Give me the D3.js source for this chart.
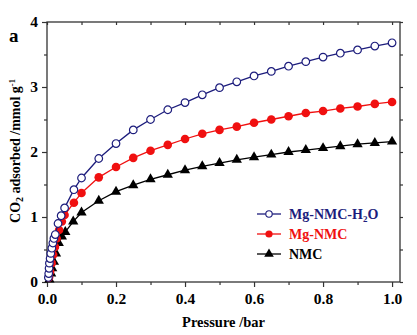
<!DOCTYPE html>
<html><head><meta charset="utf-8">
<script src="https://cdn.jsdelivr.net/npm/d3@7"></script>
<style>body{margin:0;background:#fff}svg{display:block}text{font-family:"Liberation Serif","Times New Roman",serif;font-weight:bold}</style>
</head><body><svg id="c" width="417" height="335"></svg>
<script>
const pressure = [0.004,0.005,0.006,0.007,0.009,0.011,0.014,0.017,0.020,0.024,0.032,0.041,0.051,0.078,0.10,0.15,0.20,0.25,0.30,0.35,0.40,0.45,0.50,0.55,0.60,0.65,0.70,0.75,0.80,0.85,0.90,0.95,1.00];
const mgNmcH2O = [0.07,0.13,0.21,0.29,0.36,0.44,0.52,0.60,0.67,0.73,0.90,1.02,1.14,1.42,1.60,1.90,2.13,2.34,2.50,2.65,2.76,2.88,2.99,3.08,3.17,3.24,3.32,3.39,3.46,3.52,3.57,3.63,3.68];
const pressureR = [0.006,0.009,0.0136,0.018,0.023,0.028,0.035,0.043,0.051,0.078,0.10,0.15,0.20,0.25,0.30,0.35,0.40,0.45,0.50,0.55,0.60,0.65,0.70,0.75,0.80,0.85,0.90,0.95,1.00];
const mgNmc = [0.07,0.16,0.29,0.42,0.54,0.67,0.80,0.93,1.03,1.22,1.37,1.61,1.77,1.91,2.02,2.11,2.20,2.28,2.34,2.39,2.45,2.50,2.55,2.60,2.63,2.67,2.70,2.74,2.77];
const pressureK = [0.007,0.012,0.015,0.020,0.026,0.034,0.043,0.053,0.076,0.10,0.15,0.20,0.25,0.30,0.35,0.40,0.45,0.50,0.55,0.60,0.65,0.70,0.75,0.80,0.85,0.90,0.95,1.00];
const nmc = [0.04,0.13,0.21,0.31,0.44,0.60,0.70,0.77,0.93,1.07,1.25,1.39,1.49,1.58,1.65,1.72,1.78,1.83,1.88,1.92,1.96,2.00,2.03,2.06,2.09,2.12,2.14,2.16];
const xTicks = [0.0,0.2,0.4,0.6,0.8,1.0];
const xMinor = [0.1,0.3,0.5,0.7,0.9];
const yTicks = [0,1,2,3,4];
const yMinor = [0.5,1.5,2.5,3.5];
const seriesNames = ["Mg-NMC-H2O","Mg-NMC","NMC"];
const colors = ["#1c1c7c","#f01010","#000000"];

const svg = d3.select("#c");
const L=47,R=400,T=22,B=282;
const x = d3.scaleLinear().domain([0,1.023]).range([L,R]);
const y = d3.scaleLinear().domain([0,4]).range([B,T]);

svg.append("rect").attr("x",L).attr("y",T).attr("width",R-L).attr("height",B-T).attr("fill","none").attr("stroke","#333").attr("stroke-width",1.3);

const fmt = d3.format(".1f");
const xAx = svg.append("g").attr("transform",`translate(0,${B})`)
  .call(d3.axisBottom(x).tickValues(xTicks).tickFormat(fmt).tickSize(5).tickPadding(6));
const xAxMinor = svg.append("g").attr("transform",`translate(0,${B})`)
  .call(d3.axisBottom(x).tickValues(xMinor).tickFormat("").tickSize(3));
const xTop = svg.append("g").attr("transform",`translate(0,${T})`)
  .call(d3.axisTop(x).tickValues(xTicks.concat(xMinor)).tickFormat("").tickSize(-3));
const yAx = svg.append("g").attr("transform",`translate(${L},0)`)
  .call(d3.axisLeft(y).tickValues(yTicks).tickFormat(d3.format("d")).tickSize(5).tickPadding(4));
const yAxMinor = svg.append("g").attr("transform",`translate(${L},0)`)
  .call(d3.axisLeft(y).tickValues(yMinor).tickFormat("").tickSize(3));
const yRight = svg.append("g").attr("transform",`translate(${R},0)`)
  .call(d3.axisRight(y).tickValues(yTicks.concat(yMinor)).tickFormat("").tickSize(3));
[xAx,xAxMinor,xTop,yAx,yAxMinor,yRight].forEach(g=>{
  g.select(".domain").remove();
  g.selectAll("line").attr("stroke","#333").attr("stroke-width",1.2);
  g.selectAll("text").attr("fill","#000").style("font-size","15.5px").style("font-family","'Liberation Serif',serif").style("font-weight","bold");
});

svg.append("text").attr("x",9).attr("y",42).style("font-size","19px").text("a");
svg.append("text").attr("x",(L+R)/2).attr("y",327).attr("text-anchor","middle").style("font-size","14.5px").text("Pressure /bar");
const yl = svg.append("text").attr("transform",`translate(20,151) rotate(-90)`).attr("text-anchor","middle").style("font-size","14px");
yl.append("tspan").text("CO");
yl.append("tspan").attr("dy",3).style("font-size","10px").text("2");
yl.append("tspan").attr("dy",-3).text(" adsorbed /mmol g");
yl.append("tspan").attr("dy",-5).style("font-size","8.5px").text("-1");

const data = [
  {name:seriesNames[0],xs:pressure,ys:mgNmcH2O,c:colors[0],m:"circleOpen"},
  {name:seriesNames[1],xs:pressureR,ys:mgNmc,c:colors[1],m:"circle"},
  {name:seriesNames[2],xs:pressureK,ys:nmc,c:colors[2],m:"tri"}
];
const line = d3.line().x(d=>x(d[0])).y(d=>y(d[1]));
function marker(g,type,c){
  if(type==="tri") g.append("path").attr("d",d3.symbol(d3.symbolTriangle,46)()).attr("fill",c);
  else if(type==="circle") g.append("circle").attr("r",4.3).attr("fill",c);
  else g.append("circle").attr("r",3.8).attr("fill","#fff").attr("stroke",c).attr("stroke-width",1.2);
}
[2,1,0].forEach(i=>{
  const s=data[i];
  const pts = s.xs.map((v,k)=>[v,s.ys[k]]);
  svg.append("path").attr("d",line(pts)).attr("fill","none").attr("stroke",s.c).attr("stroke-width",1.3);
  pts.forEach(p=>{
    const g=svg.append("g").attr("transform",`translate(${x(p[0])},${y(p[1])})`);
    marker(g,s.m,s.c);
  });
});

const ly=[214,234,254];
data.forEach((s,i)=>{
  svg.append("line").attr("x1",257).attr("x2",281).attr("y1",ly[i]).attr("y2",ly[i]).attr("stroke",s.c).attr("stroke-width",1.3);
  const g=svg.append("g").attr("transform",`translate(269,${ly[i]})`);
  if(s.m==="tri") g.append("path").attr("d",d3.symbol(d3.symbolTriangle,40)()).attr("fill",s.c);
  else if(s.m==="circle") g.append("circle").attr("r",3.6).attr("fill",s.c);
  else g.append("circle").attr("r",3.2).attr("fill","#fff").attr("stroke",s.c).attr("stroke-width",1.1);
  const t=svg.append("text").attr("x",289).attr("y",ly[i]+5).attr("fill",s.c).style("font-size","14px");
  if(i===0){
    t.append("tspan").text("Mg-NMC-H");
    t.append("tspan").attr("dy",3).style("font-size","9px").text("2");
    t.append("tspan").attr("dy",-3).text("O");
  } else t.text(s.name);
});
</script></body></html>
